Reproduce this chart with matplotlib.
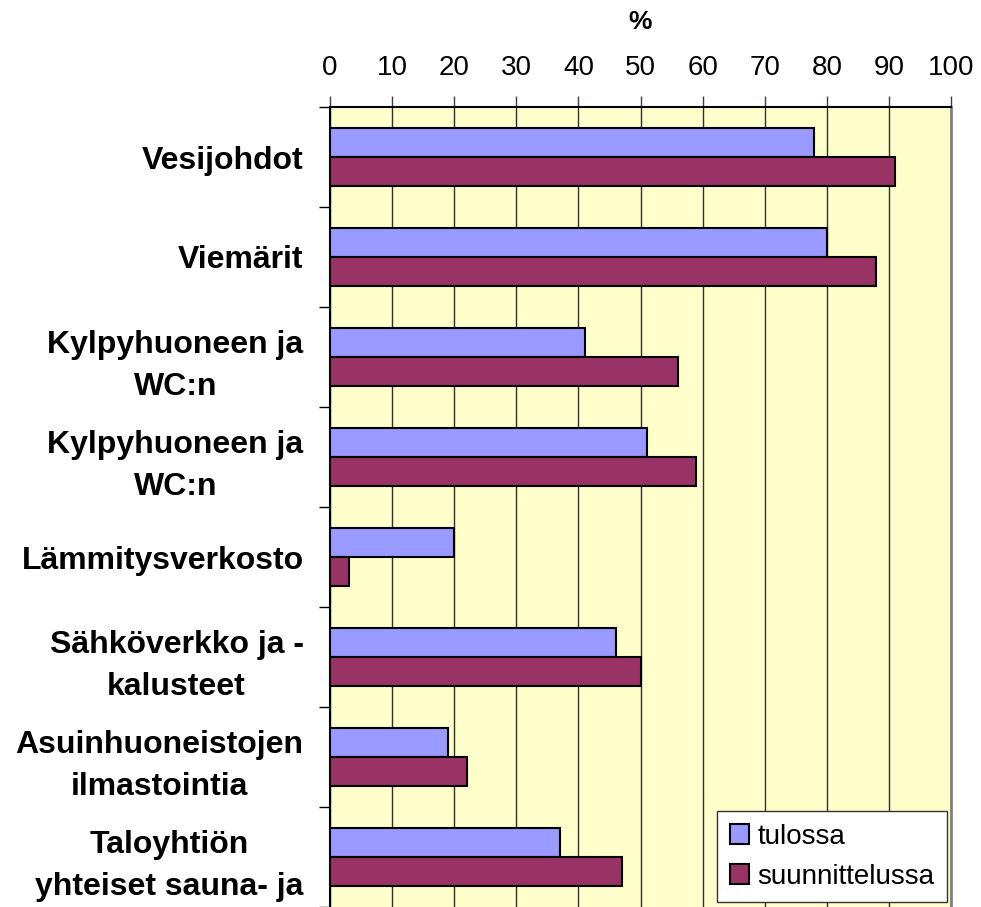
import matplotlib.pyplot as plt
import numpy as np

plt.rcParams['font.family'] = ['Liberation Sans', 'DejaVu Sans']

kategoriat = ['Vesijohdot', 'Viemärit', 'Kylpyhuoneen ja\nWC:n', 'Kylpyhuoneen ja\nWC:n',
              'Lämmitysverkosto', 'Sähköverkko ja -\nkalusteet',
              'Asuinhuoneistojen\nilmastointia', 'Taloyhtiön\nyhteiset sauna- ja']
tulossa = [78, 80, 41, 51, 20, 46, 19, 37]
suunnittelussa = [91, 88, 56, 59, 3, 50, 22, 47]
x_ticks = [0, 10, 20, 30, 40, 50, 60, 70, 80, 90, 100]

fig = plt.figure(figsize=(9.81, 9.07), dpi=100)
ax = fig.add_axes([330 / 981, 0, 621 / 981, 800 / 907])
ax.set_facecolor('#FFFFCC')

y = np.arange(len(kategoriat))
h = 0.29
ax.barh(y - h / 2, tulossa, height=h, color='#9999FF', edgecolor='black',
        linewidth=1.5, label='tulossa', zorder=3)
ax.barh(y + h / 2, suunnittelussa, height=h, color='#993366', edgecolor='black',
        linewidth=1.5, label='suunnittelussa', zorder=3)

ax.set_xlim(0, 100)
ax.set_ylim(len(kategoriat) - 0.5, -0.5)

# arvoakseli ylhäällä
ax.xaxis.tick_top()
ax.set_xticks(x_ticks)
ax.set_xticklabels([str(v) for v in x_ticks], fontsize=20)
ax.tick_params(axis='x', direction='out', length=8, width=1, pad=11, color='#404040')
ax.grid(axis='x', color='#303030', linewidth=1, zorder=1)
fig.text(640 / 981, 1 - 22 / 907, '%', fontsize=19, fontweight='bold',
         ha='center', va='center')

# kategoria-akseli
ax.set_yticks(y)
ax.set_yticklabels(kategoriat, fontsize=23, fontweight='bold')
for lbl in ax.get_yticklabels():
    lbl.set_multialignment('center')
    lbl.set_linespacing(1.5)
ax.set_yticks(np.arange(len(kategoriat) + 1) - 0.5, minor=True)
ax.tick_params(axis='y', which='major', length=0, pad=19)
ax.tick_params(axis='y', which='minor', direction='out', length=8, width=1, color='black')

ax.spines['left'].set_color('black')
ax.spines['left'].set_linewidth(1.5)
ax.spines['top'].set_color('black')
ax.spines['top'].set_linewidth(1.5)
ax.spines['right'].set_color('#808080')
ax.spines['right'].set_linewidth(2)
ax.spines['bottom'].set_visible(False)

leg = ax.legend(loc='lower right', bbox_to_anchor=(947 / 981, 5 / 907),
                bbox_transform=fig.transFigure, fontsize=20, frameon=True,
                fancybox=False, edgecolor='#333333', framealpha=1,
                handlelength=0.7, handleheight=0.7, handletextpad=0.3,
                labelspacing=0.5, borderpad=0.45, borderaxespad=0)
leg.get_frame().set_linewidth(1)
leg.set_zorder(5)

plt.savefig('out.png', dpi=100)
